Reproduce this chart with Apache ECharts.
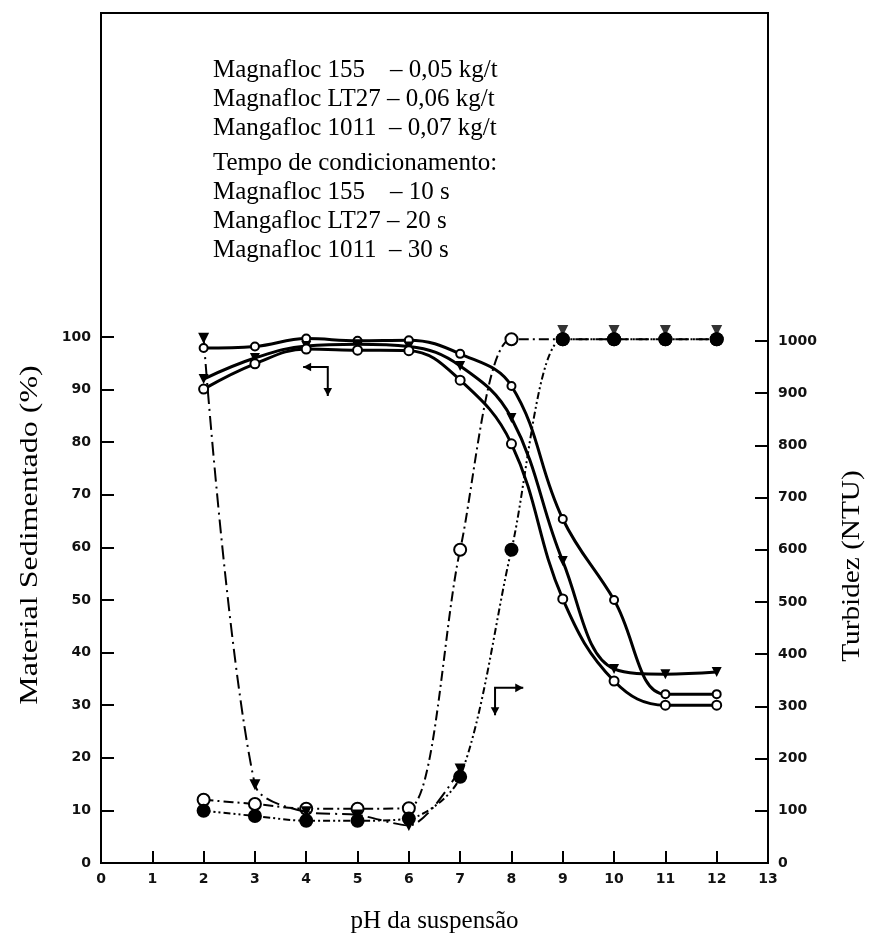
<!DOCTYPE html>
<html>
<head>
<meta charset="utf-8">
<script src="https://cdn.jsdelivr.net/npm/echarts@6/dist/echarts.min.js"></script>
<style>
html,body{margin:0;padding:0;background:#fff;}
#chart{width:874px;height:944px;}
</style>
</head>
<body>
<div id="chart"></div>
<script>
// ---- data ----
const pH = [2, 3, 4, 5, 6, 7, 8, 9, 10, 11, 12];
// Material sedimentado (%) - left axis
const sedOpen = [97.9, 98.2, 99.7, 99.3, 99.4, 96.8, 90.7, 65.4, 50.0, 32.1, 32.1];
const sedTri  = [92.0, 96.0, 98.3, 98.6, 98.2, 94.5, 84.6, 57.4, 36.9, 35.9, 36.3];
const sedRing = [90.1, 94.9, 97.7, 97.5, 97.4, 91.8, 79.7, 50.2, 34.6, 30.0, 30.0];
// Turbidez (NTU) - right axis
const turbOpen = [121, 113, 104, 104, 105, 600, 1003, 1003, 1003, 1003, 1003];
const turbFill = [100, 90, 81, 81, 85, 165, 600, 1003, 1003, 1003, 1003];
const turbTri  = [1005, 150, 98, 92, 72, 180, null, 1020, 1020, 1020, 1020];
// tick labels
const xTicks = [0, 1, 2, 3, 4, 5, 6, 7, 8, 9, 10, 11, 12, 13];
const leftTicks = [0, 10, 20, 30, 40, 50, 60, 70, 80, 90, 100];
const rightTicks = [0, 100, 200, 300, 400, 500, 600, 700, 800, 900, 1000];
// annotation text
const noteLines = [
  'Magnafloc 155    \u2013 0,05 kg/t',
  'Magnafloc LT27 \u2013 0,06 kg/t',
  'Mangafloc 1011  \u2013 0,07 kg/t',
  'Tempo de condicionamento:',
  'Magnafloc 155    \u2013 10 s',
  'Mangafloc LT27 \u2013 20 s',
  'Magnafloc 1011  \u2013 30 s'
];
const xTitle = 'pH da suspensão';
const yLeftTitle = 'Material Sedimentado (%)';
const yRightTitle = 'Turbidez (NTU)';
// direction markers (data coords: corner, arm end x, arm end y)
const arrowLeft = {corner: [4.42, 94.3], hx: 3.94, vy: 88.8};
const arrowRight = {corner: [7.68, 33.3], hx: 8.23, vy: 28.1};

function pairs(ys) { return pH.map((x, i) => [x, ys[i]]); }

const chart = echarts.init(document.getElementById('chart'), null, {renderer: 'canvas'});
const labelFont = {fontFamily: 'DejaVu Sans', fontWeight: 'bold', fontSize: 14, color: '#111'};
const serif = 'Liberation Serif';

const option = {
  animation: false,
  backgroundColor: '#ffffff',
  grid: {left: 101, right: 106, top: 13, bottom: 81, show: true, borderColor: '#000', borderWidth: 2, backgroundColor: 'transparent'},
  xAxis: {
    type: 'value', min: 0, max: 13, interval: 1,
    axisLine: {lineStyle: {color: '#000', width: 2}},
    axisTick: {inside: true, length: 12, lineStyle: {color: '#000', width: 2}},
    axisLabel: Object.assign({margin: 9, customValues: xTicks, formatter: v => String(v)}, labelFont),
    splitLine: {show: false},
    name: xTitle, nameLocation: 'middle', nameGap: 46,
    nameTextStyle: {fontFamily: serif, fontSize: 25, color: '#000'}
  },
  yAxis: [
    {
      type: 'value', min: 0, max: 161.6, position: 'left',
      axisLine: {show: true, lineStyle: {color: '#000', width: 2}},
      axisTick: {show: true, inside: true, length: 13, lineStyle: {color: '#000', width: 2}, customValues: leftTicks},
      axisLabel: Object.assign({margin: 10, customValues: leftTicks, formatter: v => String(v)}, labelFont),
      splitLine: {show: false}
    },
    {
      type: 'value', min: 0, max: 1628, position: 'right',
      axisLine: {show: true, lineStyle: {color: '#000', width: 2}},
      axisTick: {show: true, inside: true, length: 13, lineStyle: {color: '#000', width: 2}, customValues: rightTicks},
      axisLabel: Object.assign({margin: 10, customValues: rightTicks, formatter: v => String(v)}, labelFont),
      splitLine: {show: false}
    }
  ],
  series: [
    {
      name: 'T open', type: 'line', yAxisIndex: 1, data: pairs(turbOpen), smooth: 0.3,
      symbol: 'emptyCircle', symbolSize: 12,
      itemStyle: {color: '#000', borderColor: '#000', borderWidth: 3},
      lineStyle: {color: '#000', width: 2, type: [10, 4, 2, 4]}, z: 2
    },
    {
      name: 'T fill', type: 'line', yAxisIndex: 1, data: pairs(turbFill), smooth: 0.3,
      symbol: 'circle', symbolSize: 14,
      itemStyle: {color: '#000'},
      lineStyle: {color: '#000', width: 2, type: [7, 3, 2, 3, 2, 3]}, z: 3
    },
    {
      name: 'T tri', type: 'line', yAxisIndex: 1,
      data: pairs(turbTri).filter(p => p[0] <= 7), smooth: 0.3,
      symbol: 'triangle', symbolRotate: 180, symbolSize: 11,
      itemStyle: {color: '#000'},
      lineStyle: {color: '#000', width: 2, type: [14, 5, 2, 5]}, z: 4
    },
    {
      name: 'T tri high', type: 'scatter', yAxisIndex: 1,
      data: pairs(turbTri).filter(p => p[0] >= 9),
      symbol: 'triangle', symbolRotate: 180, symbolSize: 11,
      itemStyle: {color: '#000'}, z: 4
    },
    {
      name: 'S open', type: 'line', yAxisIndex: 0, data: pairs(sedOpen), smooth: 0.4,
      symbol: 'emptyCircle', symbolSize: 8,
      itemStyle: {color: '#000', borderColor: '#000', borderWidth: 2},
      lineStyle: {color: '#000', width: 3, type: 'solid'}, z: 5
    },
    {
      name: 'S tri', type: 'line', yAxisIndex: 0, data: pairs(sedTri), smooth: 0.4,
      symbol: 'triangle', symbolRotate: 180, symbolSize: 10,
      itemStyle: {color: '#000'},
      lineStyle: {color: '#000', width: 3, type: 'solid'}, z: 5
    },
    {
      name: 'S ring', type: 'line', yAxisIndex: 0, data: pairs(sedRing), smooth: 0.4,
      symbol: 'emptyCircle', symbolSize: 9,
      itemStyle: {color: '#000', borderColor: '#000', borderWidth: 2.5},
      lineStyle: {color: '#000', width: 3, type: 'solid'}, z: 5
    }
  ]
};
chart.setOption(option);

// annotations placed through the chart's own coordinate conversion
function px(x, y) { return chart.convertToPixel({xAxisIndex: 0, yAxisIndex: 0}, [x, y]); }
function arrowHead(tip, dir) {
  const s = 6;
  let pts;
  if (dir === 'left') pts = [[tip[0], tip[1]], [tip[0] + s + 2, tip[1] - s / 1.4], [tip[0] + s + 2, tip[1] + s / 1.4]];
  if (dir === 'right') pts = [[tip[0], tip[1]], [tip[0] - s - 2, tip[1] - s / 1.4], [tip[0] - s - 2, tip[1] + s / 1.4]];
  if (dir === 'down') pts = [[tip[0], tip[1]], [tip[0] - s / 1.4, tip[1] - s - 2], [tip[0] + s / 1.4, tip[1] - s - 2]];
  return {type: 'polygon', shape: {points: pts}, style: {fill: '#000'}, z: 10};
}
function bentArrow(a, hdir) {
  const c = px(a.corner[0], a.corner[1]);
  const h = px(a.hx, a.corner[1]);
  const v = px(a.corner[0], a.vy);
  return [
    {type: 'polyline', shape: {points: [h, c, v]}, style: {stroke: '#000', lineWidth: 2, fill: null}, z: 10},
    arrowHead(h, hdir),
    arrowHead(v, 'down')
  ];
}

const noteY = [70, 99, 128, 163, 192, 221, 250];
const graphics = [];
noteLines.forEach((t, i) => {
  graphics.push({type: 'text', x: 213, y: noteY[i], z: 20,
    style: {text: t, font: '25px "Liberation Serif"', fill: '#000', textVerticalAlign: 'middle', verticalAlign: 'middle', textAlign: 'left', align: 'left'}});
});
graphics.push({type: 'text', x: 30, y: 535, rotation: Math.PI / 2, scaleX: 1.28, z: 20,
  style: {text: yLeftTitle, font: '25px "Liberation Serif"', fill: '#000', textAlign: 'center', align: 'center', textVerticalAlign: 'middle', verticalAlign: 'middle'}});
graphics.push({type: 'text', x: 852, y: 566, rotation: Math.PI / 2, scaleX: 1.17, z: 20,
  style: {text: yRightTitle, font: '25px "Liberation Serif"', fill: '#000', textAlign: 'center', align: 'center', textVerticalAlign: 'middle', verticalAlign: 'middle'}});
bentArrow(arrowLeft, 'left').forEach(g => graphics.push(g));
bentArrow(arrowRight, 'right').forEach(g => graphics.push(g));
chart.setOption({graphic: {elements: graphics}});
</script>
</body>
</html>
